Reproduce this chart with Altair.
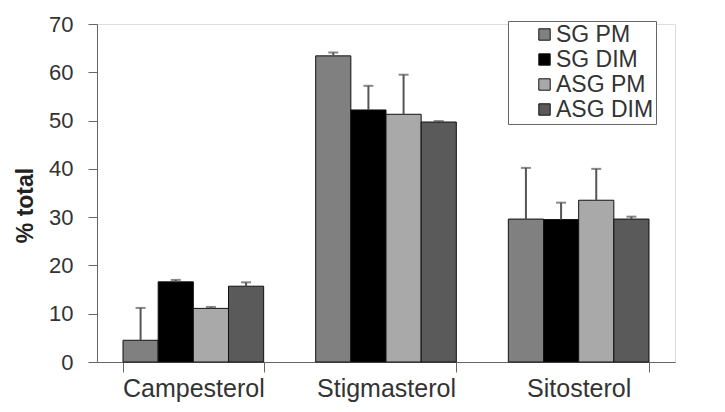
import altair as alt
import pandas as pd

sterols = ["Campesterol", "Stigmasterol", "Sitosterol"]
series = ["SG PM", "SG DIM", "ASG PM", "ASG DIM"]
colors = ["#808080", "#000000", "#a9a9a9", "#5a5a5a"]

sg_pm = [4.5, 63.4, 29.6]
sg_dim = [16.6, 52.2, 29.5]
asg_pm = [11.1, 51.3, 33.5]
asg_dim = [15.7, 49.7, 29.6]

sg_pm_err = [6.7, 0.7, 10.6]
sg_dim_err = [0.4, 5.0, 3.5]
asg_pm_err = [0.3, 8.2, 6.5]
asg_dim_err = [0.8, 0.2, 0.5]

rows = []
for s, vals, errs in zip(series, [sg_pm, sg_dim, asg_pm, asg_dim],
                         [sg_pm_err, sg_dim_err, asg_pm_err, asg_dim_err]):
    for st, v, e in zip(sterols, vals, errs):
        rows.append({"sterol": st, "series": s, "value": v, "hi": v + e})
df = pd.DataFrame(rows)

FONT = "Liberation Sans"

x = alt.X("sterol:N", sort=sterols,
          scale=alt.Scale(paddingInner=0.27, paddingOuter=0.135),
          axis=alt.Axis(title=None, labelAngle=0, tickBand="extent",
                        labelFontSize=25, labelFont=FONT, labelColor="#333333",
                        domainColor="#666666", tickColor="#666666",
                        tickSize=10, labelPadding=4))
xo = alt.XOffset("series:N", sort=series, scale=alt.Scale(paddingInner=0, paddingOuter=0))

bars = alt.Chart(df).mark_bar(stroke="#111111", strokeWidth=1).encode(
    x=x,
    xOffset=xo,
    y=alt.Y("value:Q", scale=alt.Scale(domain=[0, 70]),
            axis=alt.Axis(title="% total", values=list(range(0, 80, 10)), grid=False,
                          titleFontSize=23, titleFont=FONT, titleFontWeight="bold",
                          titleColor="#222222", titleX=-65, titleY=181,
                          titleBaseline="alphabetic", titleAlign="center", titleAngle=270,
                          labelFontSize=22, labelFont=FONT, labelColor="#333333",
                          domainColor="#666666", tickColor="#666666",
                          tickSize=9, labelPadding=15)),
    color=alt.Color("series:N", sort=series,
                    scale=alt.Scale(domain=series, range=colors),
                    legend=alt.Legend(title=None, orient="none", legendX=411, legendY=-3,
                                      symbolType="square", symbolSize=130,
                                      symbolStrokeColor="#111111", symbolStrokeWidth=1,
                                      symbolOffset=23, labelOffset=0,
                                      labelFontSize=23, labelFont=FONT, labelColor="#333333",
                                      labelExpr="datum.label + '      '",
                                      rowPadding=1, padding=2, strokeColor="#666666",
                                      fillColor="white", labelLimit=300)),
)

err = alt.Chart(df).mark_rule(color="#555555", strokeWidth=2).encode(
    x=alt.X("sterol:N", sort=sterols),
    xOffset=xo,
    y="value:Q",
    y2="hi:Q",
)

caps = alt.Chart(df).mark_tick(color="#555555", thickness=2, size=10).encode(
    x=alt.X("sterol:N", sort=sterols),
    xOffset=xo,
    y="hi:Q",
)

chart = alt.layer(bars, err, caps).properties(
    width=578, height=338,
    padding={"left": 89, "top": 16, "right": 42, "bottom": 42},
    autosize=alt.AutoSizeParams(type="none"),
).configure_view(stroke=None).configure(background="white")

chart.save("out.html", embed_options={"renderer": "svg", "actions": False})
